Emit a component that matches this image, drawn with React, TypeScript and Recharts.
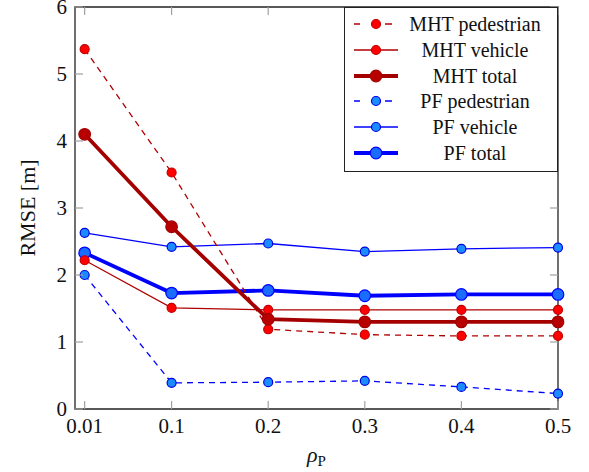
import { LineChart, Line, XAxis, YAxis, ReferenceArea, Legend } from 'recharts';

// RMSE vs rho_P
const rho = [0.01, 0.1, 0.2, 0.3, 0.4, 0.5];
const mhtPedestrian = [5.37, 3.53, 1.19, 1.11, 1.09, 1.09];
const mhtVehicle = [2.22, 1.51, 1.48, 1.48, 1.48, 1.48];
const mhtTotal = [4.1, 2.72, 1.34, 1.3, 1.3, 1.3];
const pfPedestrian = [2.0, 0.39, 0.4, 0.42, 0.33, 0.23];
const pfVehicle = [2.63, 2.42, 2.47, 2.35, 2.39, 2.41];
const pfTotal = [2.33, 1.73, 1.77, 1.69, 1.71, 1.71];
const yTicks = [0, 1, 2, 3, 4, 5, 6];

const FONT = '"Liberation Serif", "Times New Roman"';
const W = 589;
const H = 472;
const PLOT_TOP = 7;
const PLOT_RIGHT = 558;
const TICK_LEN = 8;

// font has to sit on each text element itself, inherited values get overridden
const txt = (size: number, extra: any = {}) => ({ fontFamily: FONT, fontSize: size, ...extra });

const data = rho.map((r, i) => ({
  rho: r,
  mhtPed: mhtPedestrian[i],
  mhtVeh: mhtVehicle[i],
  mhtTot: mhtTotal[i],
  pfPed: pfPedestrian[i],
  pfVeh: pfVehicle[i],
  pfTot: pfTotal[i],
}));

const series = [
  { key: 'mhtPed', name: 'MHT pedestrian', stroke: '#b00000', width: 1.3, dash: '6 5', r: 4.5, fill: '#ff0000', dotStroke: '#c00000' },
  { key: 'mhtVeh', name: 'MHT vehicle', stroke: '#b00000', width: 1.3, dash: undefined, r: 4.5, fill: '#ff0000', dotStroke: '#c00000' },
  { key: 'mhtTot', name: 'MHT total', stroke: '#a50000', width: 3.8, dash: undefined, r: 5.8, fill: '#b80000', dotStroke: '#a00000' },
  { key: 'pfPed', name: 'PF pedestrian', stroke: '#0000ff', width: 1.3, dash: '6 5', r: 4.5, fill: '#1a8cff', dotStroke: '#0000e0' },
  { key: 'pfVeh', name: 'PF vehicle', stroke: '#0000ff', width: 1.3, dash: undefined, r: 4.5, fill: '#1a8cff', dotStroke: '#0000e0' },
  { key: 'pfTot', name: 'PF total', stroke: '#0000ff', width: 3.8, dash: undefined, r: 5.8, fill: '#1a6cff', dotStroke: '#0000ff' },
];

// red lines sit on top of the blue ones in the reference
const drawOrder = ['pfPed', 'pfVeh', 'pfTot', 'mhtPed', 'mhtVeh', 'mhtTot'];

function XTick({ x, y, payload }: any) {
  return (
    <g>
      <line x1={x} x2={x} y1={y} y2={y - TICK_LEN} stroke="#a0a0a0" strokeWidth={1.2} />
      <line x1={x} x2={x} y1={PLOT_TOP} y2={PLOT_TOP + TICK_LEN} stroke="#a0a0a0" strokeWidth={1.2} />
      <text x={x} y={y + 24} textAnchor="middle" style={txt(21)} fill="#111">
        {String(payload.value)}
      </text>
    </g>
  );
}

function YTick({ x, y, payload }: any) {
  return (
    <g>
      <line x1={x} x2={x + TICK_LEN} y1={y} y2={y} stroke="#a0a0a0" strokeWidth={1.2} />
      <line x1={PLOT_RIGHT - TICK_LEN} x2={PLOT_RIGHT} y1={y} y2={y} stroke="#a0a0a0" strokeWidth={1.2} />
      <text x={x - 8} y={y} dy="0.35em" textAnchor="end" style={txt(21)} fill="#111">
        {payload.value}
      </text>
    </g>
  );
}

function XLabel({ viewBox }: any) {
  const cx = viewBox.x + viewBox.width / 2;
  return (
    <text x={cx} y={viewBox.y + 53} textAnchor="middle" style={txt(22)} fill="#111">
      <tspan style={txt(22, { fontStyle: 'italic' })}>ρ</tspan>
      <tspan style={txt(15)} dy={4}>P</tspan>
    </text>
  );
}

function YLabel({ viewBox }: any) {
  const cx = 27;
  const cy = viewBox.y + viewBox.height / 2;
  return (
    <text x={cx} y={cy} transform={`rotate(-90, ${cx}, ${cy})`} textAnchor="middle" dy="0.35em" style={txt(22)} fill="#111">
      RMSE [m]
    </text>
  );
}

function LegendBox() {
  return (
    <div style={{ position: 'relative', width: 214, height: 165, border: '1.3px solid #222', boxSizing: 'border-box', background: '#fff' }}>
      {series.map((s, i) => {
        const cy = 16 + i * 25.8;
        return (
          <div key={s.key}>
            <svg width={46} height={16} style={{ position: 'absolute', left: 8, top: cy - 8 }}>
              <line x1={1} x2={45} y1={8} y2={8} stroke={s.stroke} strokeWidth={s.width} strokeDasharray={s.dash ? '6 7 0 18 7 8' : undefined} />
              <circle cx={23} cy={8} r={s.r} fill={s.fill} stroke={s.dotStroke} strokeWidth={1.2} />
            </svg>
            <div style={txt(20, { position: 'absolute', left: 52, width: 156, top: cy - 12, height: 24, lineHeight: '24px', textAlign: 'center', whiteSpace: 'nowrap', color: '#111' })}>
              {s.name}
            </div>
          </div>
        );
      })}
    </div>
  );
}

export default function App() {
  const ordered = drawOrder.map((k) => series.find((s) => s.key === k)!);
  return (
    <div style={{ position: 'absolute', left: 0, top: 0, width: W, height: H, background: '#fff' }}>
      <LineChart width={W} height={H} data={data} margin={{ top: PLOT_TOP, right: W - PLOT_RIGHT, bottom: 13, left: 15 }}>
        <XAxis
          dataKey="rho"
          type="number"
          domain={[0, 0.5]}
          ticks={rho}
          height={50}
          axisLine={false}
          tickLine={false}
          tickSize={0}
          tickMargin={0}
          tick={<XTick />}
          interval={0}
          label={<XLabel />}
        />
        <YAxis
          type="number"
          domain={[0, 6]}
          ticks={yTicks}
          width={60}
          axisLine={false}
          tickLine={false}
          tickSize={0}
          tickMargin={0}
          tick={<YTick />}
          interval={0}
          label={<YLabel />}
        />
        <ReferenceArea x1={0} x2={0.5} y1={0} y2={6} fill="none" stroke="#222" strokeWidth={1.3} ifOverflow="extendDomain" />
        {ordered.map((s) => (
          <Line
            key={s.key}
            dataKey={s.key}
            name={s.name}
            type="linear"
            stroke={s.stroke}
            strokeWidth={s.width}
            strokeDasharray={s.dash}
            dot={{ r: s.r, fill: s.fill, stroke: s.dotStroke, strokeWidth: 1.2, strokeDasharray: 'none' }}
            activeDot={false}
            isAnimationActive={false}
          />
        ))}
        <Legend
          verticalAlign="middle"
          align="center"
          layout="vertical"
          content={() => <LegendBox />}
          wrapperStyle={{ left: 344, top: 7, width: 214, height: 165 }}
        />
      </LineChart>
    </div>
  );
}
